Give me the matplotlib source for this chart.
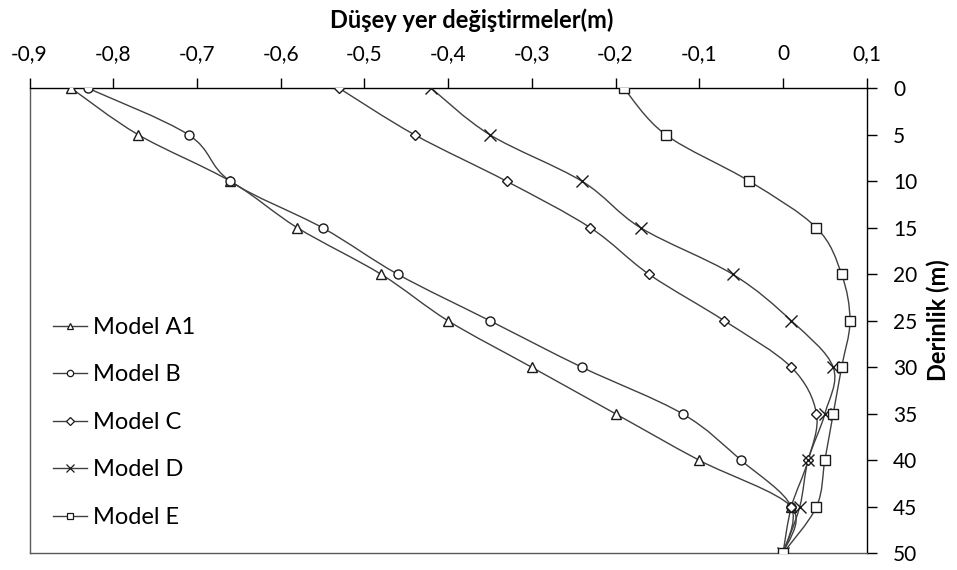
import matplotlib
matplotlib.use("Agg")
import matplotlib.pyplot as plt
from matplotlib.path import Path
from matplotlib.patches import PathPatch
from matplotlib.lines import Line2D
import numpy as np

plt.rcParams["font.family"] = ["Lato", "DejaVu Sans"]

# vertical displacement (m) per model at each depth (m)
depth = [0, 5, 10, 15, 20, 25, 30, 35, 40, 45, 50]
model_a1 = [-0.85, -0.77, -0.66, -0.58, -0.48, -0.40, -0.30, -0.20, -0.10, 0.01, 0.0]
model_b = [-0.83, -0.71, -0.66, -0.55, -0.46, -0.35, -0.24, -0.12, -0.05, 0.01, 0.0]
model_c = [-0.53, -0.44, -0.33, -0.23, -0.16, -0.07, 0.01, 0.04, 0.03, 0.01, 0.0]
model_d = [-0.42, -0.35, -0.24, -0.17, -0.06, 0.01, 0.06, 0.05, 0.03, 0.02, 0.0]
model_e = [-0.19, -0.14, -0.04, 0.04, 0.07, 0.08, 0.07, 0.06, 0.05, 0.04, 0.0]

labels = ["Model A1", "Model B", "Model C", "Model D", "Model E"]
markers = ["^", "o", "D", "x", "s"]
msizes = [6.5, 6.5, 5.2, 8, 6.5]

x_ticks = [-0.9, -0.8, -0.7, -0.6, -0.5, -0.4, -0.3, -0.2, -0.1, 0.0, 0.1]
x_ticklabels = ["-0,9", "-0,8", "-0,7", "-0,6", "-0,5", "-0,4", "-0,3",
                "-0,2", "-0,1", "0", "0,1"]
y_ticks = [0, 5, 10, 15, 20, 25, 30, 35, 40, 45, 50]

LINE = "#404040"


def smooth_path(xs, ys):
    """Bezier path through the points (Catmull-Rom style control points)."""
    p = np.column_stack([xs, ys]).astype(float)
    n = len(p)
    verts = [p[0]]
    codes = [Path.MOVETO]
    for i in range(n - 1):
        p0 = p[i - 1] if i > 0 else p[i]
        p3 = p[i + 2] if i + 2 < n else p[i + 1]
        c1 = p[i] + (p[i + 1] - p0) / 6.0
        c2 = p[i + 1] - (p3 - p[i]) / 6.0
        verts += [c1, c2, p[i + 1]]
        codes += [Path.CURVE4] * 3
    return Path(verts, codes)


W, H = 957, 570
fig = plt.figure(figsize=(W / 100, H / 100), dpi=100)
ax = fig.add_axes([29.5 / W, 1 - 553.3 / H, (866.7 - 29.5) / W, (553.3 - 88.3) / H])

series = [model_a1, model_b, model_c, model_d, model_e]
handles = []
for vals, lab, mk, ms in zip(series, labels, markers, msizes):
    ax.add_patch(PathPatch(smooth_path(vals, depth), fill=False,
                           edgecolor=LINE, lw=1.0, zorder=2))
    ax.plot(vals, depth, ls="none", marker=mk, ms=ms, mfc="white",
            mec="#1a1a1a", mew=1.0, zorder=3)
    handles.append(Line2D([], [], color=LINE, lw=1.0, marker=mk, ms=ms * 0.7,
                          mfc="white", mec="#1a1a1a", mew=0.9, label=lab))

ax.set_xlim(-0.9, 0.1)
ax.set_ylim(50, 0)
ax.xaxis.tick_top()
ax.yaxis.tick_right()
ax.set_xticks(x_ticks)
ax.set_xticklabels(x_ticklabels)
ax.set_yticks(y_ticks)
ax.tick_params(axis="x", direction="out", length=7, width=1, pad=10.5,
               labelsize=15, color="black")
ax.tick_params(axis="y", direction="out", length=7, width=1, pad=12,
               labelsize=15, color="black")
for lab in ax.get_yticklabels():
    lab.set_horizontalalignment("left")

ax.spines["top"].set_color("black")
ax.spines["right"].set_color("black")
ax.spines["left"].set_color("#595959")
ax.spines["bottom"].set_color("#595959")
for s in ax.spines.values():
    s.set_linewidth(1.0)

fig.text(472 / W, 1 - 20 / H, "Düşey yer değiştirmeler(m)", ha="center",
         va="center", fontsize=17, fontweight="bold")
fig.text(938 / W, 1 - 320 / H, "Derinlik (m)", ha="center", va="center",
         rotation=90, fontsize=17, fontweight="bold")

ax.legend(handles=handles, loc="upper left", frameon=False, fontsize=17,
          handlelength=1.45, handletextpad=0.25, labelspacing=1.12,
          bbox_to_anchor=(53 / W, 1 - 317 / H), bbox_transform=fig.transFigure,
          borderaxespad=0, borderpad=0)

fig.savefig("out.png", dpi=100)
